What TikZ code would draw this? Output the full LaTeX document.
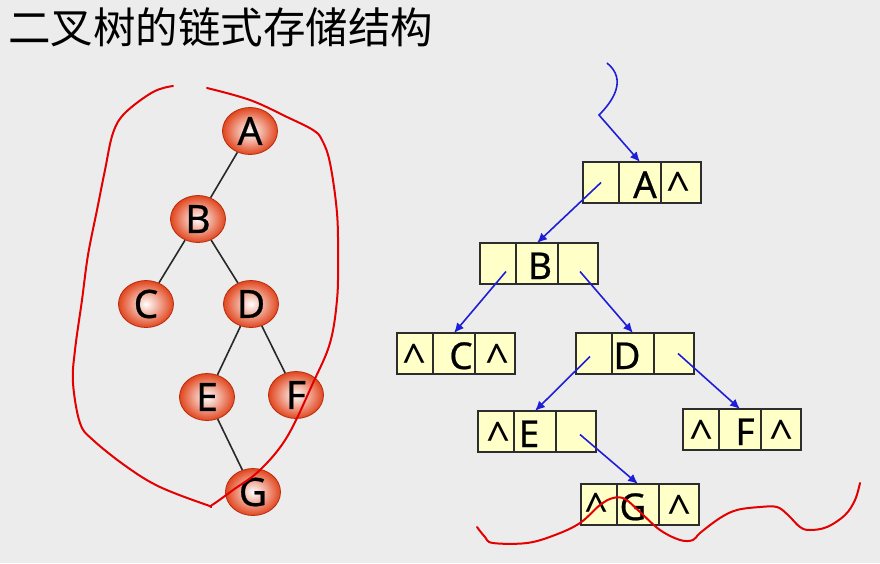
\documentclass[tikz,border=0pt]{standalone}
\usepackage{fontspec}
\newfontfamily\cjk{Noto Sans CJK SC}
\newfontfamily\lettf[FakeBold=0.6]{Noto Sans}
\newfontfamily\caretf{Noto Sans}
\usetikzlibrary{shapes.geometric,arrows.meta,calc}
\definecolor{bgc}{RGB}{236,236,236}
\definecolor{nodeout}{RGB}{225,70,30}
\definecolor{nodeedge}{RGB}{185,45,15}
\definecolor{cellfill}{RGB}{255,255,200}
\definecolor{celledge}{RGB}{45,45,45}
\definecolor{ptrblue}{RGB}{30,30,215}
\definecolor{inkred}{RGB}{228,0,0}
\definecolor{edgegray}{RGB}{40,40,40}
\begin{document}
\begin{tikzpicture}[x=1pt,y=-1pt,
  treenode/.style={ellipse, minimum width=55pt, minimum height=47pt, inner sep=0pt,
    draw=nodeedge, line width=0.8pt, shading=radial, inner color=white, outer color=nodeout,
    font=\lettf\fontsize{39pt}{40pt}\selectfont},
  treeedge/.style={draw=edgegray, line width=1.6pt},
  cellbox/.style={draw=celledge, fill=cellfill, line width=1.3pt, minimum height=41pt,
    inner sep=0pt, outer sep=0pt, anchor=north west},
  cellL/.style={cellbox, minimum width=36pt},
  cellM/.style={cellbox, minimum width=42pt},
  cellR/.style={cellbox, minimum width=40pt},
  lt/.style={anchor=base, inner sep=0pt, font=\lettf\fontsize{37pt}{38pt}\selectfont},
  ct/.style={anchor=base, inner sep=0pt, font=\caretf\fontsize{42pt}{44pt}\selectfont},
  ptr/.style={draw=ptrblue, line width=1.6pt, -{Latex[length=10pt,width=9pt]}},
  ink/.style={draw=inkred, line width=2pt, line cap=round, line join=round}
]
\useasboundingbox (0,0) rectangle (880,563);
\fill[bgc] (0,0) rectangle (880,563);

% title
\node[anchor=west, inner sep=0pt, font=\cjk\fontsize{42.5pt}{45pt}\selectfont] (title) at (8,27) {二叉树的链式存储结构};

% tree
\node[treenode] (A) at (250,131) {A};
\node[treenode] (B) at (198,219) {B};
\node[treenode] (C) at (146,304) {C};
\node[treenode] (D) at (251,304) {D};
\node[treenode] (E) at (207,397) {E};
\node[treenode] (F) at (296,395) {F};
\node[treenode] (G) at (253,492) {G};
\draw[treeedge] (A) -- (B);
\draw[treeedge] (B) -- (C);
\draw[treeedge] (B) -- (D);
\draw[treeedge] (D) -- (E);
\draw[treeedge] (D) -- (F);
\draw[treeedge] (E) -- (G);

% linked boxes
\node[cellL] (A1) at (583,162) {}; \node[cellM] (A2) at (A1.north east) {}; \node[cellR] (A3) at (A2.north east) {};
\node[cellL] (B1) at (480,243) {}; \node[cellM] (B2) at (B1.north east) {}; \node[cellR] (B3) at (B2.north east) {};
\node[cellL] (C1) at (397,333) {}; \node[cellM] (C2) at (C1.north east) {}; \node[cellR] (C3) at (C2.north east) {};
\node[cellL] (D1) at (576,333) {}; \node[cellM] (D2) at (D1.north east) {}; \node[cellR] (D3) at (D2.north east) {};
\node[cellL] (E1) at (478,411) {}; \node[cellM] (E2) at (E1.north east) {}; \node[cellR] (E3) at (E2.north east) {};
\node[cellL] (F1) at (683,409) {}; \node[cellM] (F2) at (F1.north east) {}; \node[cellR] (F3) at (F2.north east) {};
\node[cellL] (G1) at (581,484) {}; \node[cellM] (G2) at (G1.north east) {}; \node[cellR] (G3) at (G2.north east) {};

% texts in boxes
\node[lt] (tA) at (645,198) {A};
\node[ct] (tAr) at (679,202) {\^{}};
\node[lt] (tB) at (540,279) {B};
\node[ct] (tCl) at (415,374) {\^{}};
\node[lt] (tC) at (461,369) {C};
\node[ct] (tCr) at (498,374) {\^{}};
\node[lt] (tD) at (627,369) {D};
\node[ct] (tEl) at (499,452) {\^{}};
\node[lt] (tE) at (529,447) {E};
\node[ct] (tFl) at (702,450) {\^{}};
\node[lt] (tF) at (745,445) {F};
\node[ct] (tFr) at (782,450) {\^{}};
\node[ct] (tGl) at (597,523) {\^{}};
\node[lt] (tG) at (633,520) {G};
\node[ct] (tGr) at (680,525) {\^{}};

% pointers
\coordinate (entry) at (607,63);
\draw[ptr] (entry) .. controls (628,80) and (612,102) .. (599,115) -- (A2.north);
\draw[ptr] (A1.center) -- (B2.north);
\draw[ptr] ([shift={(8,8)}]B1.center) -- (C2.north);
\draw[ptr] ([shift={(2,8)}]B3.center) -- (D2.north);
\draw[ptr] ([shift={(-4,3)}]D1.center) -- (E2.north);
\draw[ptr] ([shift={(4,0)}]D3.center) -- (F2.north);
\draw[ptr] ([shift={(4,3)}]E3.center) -- (G2.north);

% red freehand strokes
\draw[ink] plot[smooth, tension=0.6] coordinates {
 (173,86) (153,92) (125,113) (113,133) (105,170) (97,210) (88,255) (82,300)
 (75,350) (73,383) (80,423) (93,440) (127,467) (160,487) (207,505) (212,505)
 (233,490) (260,470) (287,437) (313,383) (330,343) (337,300) (338,260)
 (337,213) (330,163) (322,140) (313,130) (287,117) (250,100) (207,88)};
\draw[ink] plot[smooth, tension=0.6] coordinates {
 (477,527) (485,537) (493,543) (527,543) (555,535) (580,523) (600,505)
 (613,498) (625,499) (640,512) (660,530) (680,540) (693,540) (700,533)
 (720,518) (737,510) (760,507) (777,507) (788,515) (800,527) (810,530)
 (827,527) (845,515) (855,500) (860,483)};
\end{tikzpicture}
\end{document}
